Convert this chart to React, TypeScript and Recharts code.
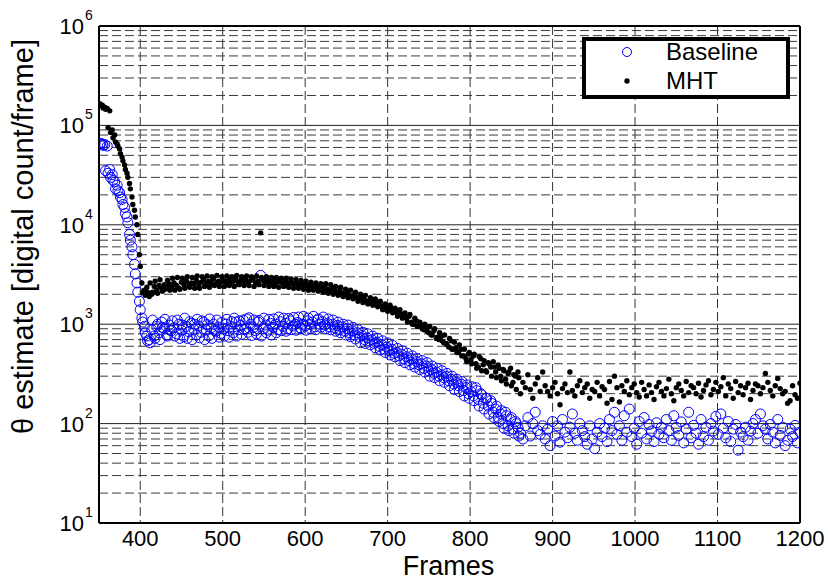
// @ts-nocheck
import React from 'react';
import {
  ScatterChart,
  Scatter,
  XAxis,
  YAxis,
  CartesianGrid,
  ReferenceLine,
  Legend,
} from 'recharts';

const FONT = '"Liberation Sans", Arial, Helvetica, sans-serif';

// frame numbers (one sample every 3 frames)
const frames = [
  351, 354, 357, 360, 363, 366, 369, 372, 375, 378,
  381, 384, 387, 390, 393, 396, 399, 402, 405, 408,
  411, 414, 417, 420, 423, 426, 429, 432, 435, 438,
  441, 444, 447, 450, 453, 456, 459, 462, 465, 468,
  471, 474, 477, 480, 483, 486, 489, 492, 495, 498,
  501, 504, 507, 510, 513, 516, 519, 522, 525, 528,
  531, 534, 537, 540, 543, 546, 549, 552, 555, 558,
  561, 564, 567, 570, 573, 576, 579, 582, 585, 588,
  591, 594, 597, 600, 603, 606, 609, 612, 615, 618,
  621, 624, 627, 630, 633, 636, 639, 642, 645, 648,
  651, 654, 657, 660, 663, 666, 669, 672, 675, 678,
  681, 684, 687, 690, 693, 696, 699, 702, 705, 708,
  711, 714, 717, 720, 723, 726, 729, 732, 735, 738,
  741, 744, 747, 750, 753, 756, 759, 762, 765, 768,
  771, 774, 777, 780, 783, 786, 789, 792, 795, 798,
  801, 804, 807, 810, 813, 816, 819, 822, 825, 828,
  831, 834, 837, 840, 843, 846, 849, 852, 855, 858,
  861, 864, 867, 870, 873, 876, 879, 882, 885, 888,
  891, 894, 897, 900, 903, 906, 909, 912, 915, 918,
  921, 924, 927, 930, 933, 936, 939, 942, 945, 948,
  951, 954, 957, 960, 963, 966, 969, 972, 975, 978,
  981, 984, 987, 990, 993, 996, 999, 1002, 1005, 1008,
  1011, 1014, 1017, 1020, 1023, 1026, 1029, 1032, 1035, 1038,
  1041, 1044, 1047, 1050, 1053, 1056, 1059, 1062, 1065, 1068,
  1071, 1074, 1077, 1080, 1083, 1086, 1089, 1092, 1095, 1098,
  1101, 1104, 1107, 1110, 1113, 1116, 1119, 1122, 1125, 1128,
  1131, 1134, 1137, 1140, 1143, 1146, 1149, 1152, 1155, 1158,
  1161, 1164, 1167, 1170, 1173, 1176, 1179, 1182, 1185, 1188,
  1191, 1194, 1197, 1200,
];

const baselineValues = [
  65000, 65000, 64000, 62000, 36000, 32000, 27000, 25000, 21000, 18000,
  15000, 12000, 8000, 6000, 4000, 2600, 1700, 1150, 950, 760,
  700, 880, 760, 950, 820, 1050, 900, 780, 980, 860,
  920, 800, 1000, 870, 750, 950, 840, 1020, 890, 780,
  960, 830, 1050, 880, 760, 920, 1000, 850, 940, 810,
  900, 1000, 860, 950, 820, 1050, 880, 970, 1100, 900,
  830, 1000, 920, 860, 1050, 3100, 900, 980, 870, 1020,
  930, 1000, 880, 1060, 950, 1020, 900, 1080, 960, 1000,
  1040, 920, 1000, 960, 1080, 990, 1050, 940, 1100, 1000,
  1060, 980, 1020, 940, 1000, 920, 970, 880, 940, 850,
  900, 820, 860, 780, 820, 740, 770, 700, 730, 680,
  700, 640, 660, 600, 620, 560, 590, 540, 560, 510,
  520, 480, 500, 450, 470, 430, 450, 400, 420, 390,
  400, 360, 380, 340, 350, 320, 330, 300, 310, 290,
  300, 270, 280, 250, 260, 240, 250, 215, 230, 200,
  210, 190, 230, 175, 200, 160, 180, 150, 170, 130,
  140, 115, 125, 100, 130, 95, 110, 88, 105, 92,
  80, 70, 95, 115, 75, 100, 130, 85, 78, 95,
  70, 88, 60, 105, 75, 95, 65, 110, 82, 72,
  92, 125, 80, 68, 100, 85, 74, 62, 95, 70,
  56, 82, 100, 74, 90, 66, 110, 85, 130, 78,
  95, 68, 120, 82, 140, 74, 90, 62, 105, 80,
  115, 70, 98, 84, 66, 102, 78, 92, 72, 110,
  85, 68, 120, 92, 76, 104, 64, 88, 130, 72,
  96, 80, 62, 110, 74, 92, 68, 100, 84, 118,
  78, 125, 90, 72, 105, 66, 88, 98, 54, 82,
  74, 92, 68, 84, 100, 110, 80, 125, 95, 88,
  70, 98, 82, 64, 110, 76, 92, 60, 68, 88,
  74, 96, 64, 82,
];

const mhtValues = [
  165000, 160000, 152000, 148000, 140000, 90000, 80000, 65000, 58000, 48000,
  40000, 33000, 26000, 19000, 14000, 10000, 5000, 2600, 2200, 2350,
  1900, 2000, 2400, 2200, 2450, 2300, 2500, 2350, 2550, 2400,
  2600, 2450, 2300, 2650, 2500, 2700, 2450, 2600, 2550, 2750,
  2500, 2650, 2800, 2550, 2700, 2600, 2850, 2550, 2700, 2650,
  2750, 2600, 2800, 2650, 2700, 2850, 2600, 2750, 2700, 2800,
  2650, 2750, 2850, 2600, 2700, 8300, 2750, 2650, 2800, 2600,
  2700, 2550, 2750, 2650, 2600, 2700, 2500, 2650, 2550, 2600,
  2500, 2600, 2450, 2550, 2400, 2500, 2350, 2450, 2300, 2400,
  2300, 2350, 2250, 2200, 2300, 2150, 2100, 2200, 2050, 2000,
  2050, 1950, 1900, 2000, 1850, 1800, 1850, 1750, 1700, 1650,
  1700, 1600, 1650, 1550, 1500, 1550, 1450, 1400, 1450, 1350,
  1300, 1350, 1250, 1200, 1150, 1200, 1050, 1000, 1080, 950,
  980, 880, 920, 820, 780, 860, 720, 700, 760, 650,
  640, 590, 680, 560, 580, 520, 560, 480, 450, 500,
  440, 480, 400, 370, 450, 390, 340, 410, 370, 420,
  330, 390, 300, 350, 280, 320, 360, 260, 300, 330,
  200, 260, 230, 310, 220, 180, 250, 290, 210, 330,
  240, 210, 190, 230, 260, 200, 155, 225, 250, 205,
  330, 215, 190, 240, 270, 205, 230, 250, 180, 220,
  210, 260, 190, 235, 220, 160, 265, 175, 300, 230,
  165, 240, 210, 270, 195, 230, 250, 205, 185, 260,
  220, 190, 245, 205, 175, 235, 260, 210, 190, 225,
  280, 200, 170, 230, 250, 215, 190, 265, 205, 240,
  230, 200, 255, 185, 215, 245, 270, 195, 220, 260,
  210, 235, 290, 190, 250, 225, 180, 265, 205, 240,
  195, 230, 255, 175, 215, 250, 240, 200, 230, 320,
  260, 215, 190, 240, 285, 225, 200, 210, 160, 170,
  240, 195, 180, 255,
];

// in-between frames where the two estimates form dense bands
const framesDense = [
  352, 355, 358, 361, 364, 367, 370, 373, 376, 379,
  382, 385, 388, 391, 394, 397, 400, 403, 406, 409,
  412, 415, 418, 421, 424, 427, 430, 433, 436, 439,
  442, 445, 448, 451, 454, 457, 460, 463, 466, 469,
  472, 475, 478, 481, 484, 487, 490, 493, 496, 499,
  502, 505, 508, 511, 514, 517, 520, 523, 526, 529,
  532, 535, 538, 541, 544, 547, 550, 553, 556, 559,
  562, 565, 568, 571, 574, 577, 580, 583, 586, 589,
  592, 595, 598, 601, 604, 607, 610, 613, 616, 619,
  622, 625, 628, 631, 634, 637, 640, 643, 646, 649,
  652, 655, 658, 661, 664, 667, 670, 673, 676, 679,
  682, 685, 688, 691, 694, 697, 700, 703, 706, 709,
  712, 715, 718, 721, 724, 727, 730, 733, 736, 739,
  742, 745, 748, 751, 754, 757, 760, 763, 766, 769,
  772, 775, 778, 781, 784, 787, 790, 793, 796, 799,
  802, 805, 808, 811, 814, 817, 820, 823, 826, 829,
  832, 835, 838, 841, 844, 847, 850, 853, 856, 859,
];

const baselineDense = [
  66000, 63000, 35000, 33000, 30000, 28000, 23000, 22000, 19000, 16000,
  13000, 10500, 7000, 5000, 3200, 2100, 1400, 1050, 820, 680,
  650, 1100, 720, 1000, 700, 930, 1120, 760, 870, 1080,
  760, 1100, 720, 980, 1150, 720, 1060, 700, 1000, 1120,
  730, 1080, 700, 990, 1130, 720, 860, 1100, 740, 1040,
  760, 1120, 740, 1060, 1150, 760, 1080, 790, 880, 1130,
  1160, 770, 1100, 800, 1090, 760, 1150, 820, 1120, 780,
  1130, 820, 1180, 860, 1150, 850, 1140, 880, 1170, 870,
  1180, 900, 1200, 870, 1150, 900, 1200, 880, 1130, 930,
  1180, 900, 1130, 880, 1100, 850, 1050, 820, 1000, 780,
  980, 750, 930, 710, 880, 650, 830, 640, 800, 620,
  760, 580, 720, 550, 680, 520, 650, 490, 610, 470,
  570, 430, 540, 410, 510, 390, 480, 370, 450, 350,
  430, 330, 410, 300, 380, 290, 360, 270, 340, 260,
  320, 240, 300, 220, 280, 210, 265, 190, 245, 180,
  235, 170, 215, 150, 195, 140, 180, 125, 160, 115,
  150, 105, 135, 90, 120, 85, 115, 80, 100, 75,
];

const mhtDense = [
  158000, 150000, 145000, 95000, 85000, 75000, 68000, 62000, 52000, 44000,
  36000, 30000, 23000, 16000, 12000, 8000, 3800, 2100, 1950, 2100,
  2600, 2100, 2700, 2050, 2800, 2150, 2250, 2750, 2200, 2900,
  2200, 2950, 2250, 2900, 2300, 3000, 2350, 2950, 2300, 3050,
  2300, 3000, 2400, 3050, 2350, 3000, 2450, 3100, 2400, 3000,
  2400, 3050, 2450, 3000, 2400, 3100, 2500, 3000, 2450, 3050,
  2450, 3000, 2400, 3050, 2500, 2950, 2450, 3000, 2400, 2950,
  2400, 2950, 2350, 2900, 2400, 2900, 2350, 2850, 2300, 2800,
  2300, 2750, 2250, 2700, 2200, 2650, 2200, 2600, 2150, 2550,
  2100, 2550, 2050, 2500, 2000, 2400, 1950, 2350, 1900, 2250,
  1850, 2200, 1800, 2100, 1700, 2000, 1650, 1950, 1600, 1850,
  1550, 1800, 1500, 1700, 1400, 1600, 1350, 1550, 1300, 1450,
  1200, 1400, 1150, 1300, 1050, 1250, 1000, 1150, 950, 1050,
  900, 1000, 850, 950, 780, 900, 740, 820, 680, 780,
  620, 720, 560, 660, 520, 620, 480, 560, 420, 520,
  400, 500, 360, 470, 340, 430, 330, 400, 300, 370,
  290, 360, 270, 340, 250, 330, 240, 310, 220, 290,
];

const xTicks = [400, 500, 600, 700, 800, 900, 1000, 1100, 1200];
const yTicks = [10, 100, 1000, 10000, 100000, 1000000];
const yMajorGrid = [100, 1000, 10000, 100000];
const yMinorGrid = [
  20, 30, 40, 50, 60, 70, 80, 90,
  200, 300, 400, 500, 600, 700, 800, 900,
  2000, 3000, 4000, 5000, 6000, 7000, 8000, 9000,
  20000, 30000, 40000, 50000, 60000, 70000, 80000, 90000,
  200000, 300000, 400000, 500000, 600000, 700000, 800000, 900000,
];

const baselineData = [
  ...frames.map((f, i) => ({ frame: f, value: baselineValues[i] })),
  ...framesDense.map((f, i) => ({ frame: f, value: baselineDense[i] })),
];
const mhtData = [
  ...frames.map((f, i) => ({ frame: f, value: mhtValues[i] })),
  ...framesDense.map((f, i) => ({ frame: f, value: mhtDense[i] })),
];

const BaselineMarker = (props) => (
  <circle cx={props.cx} cy={props.cy} r={5} fill="none" stroke="#0000ff" strokeWidth={1} />
);

const MhtMarker = (props) => <circle cx={props.cx} cy={props.cy} r={2.7} fill="#000" />;

function LogTick({ x, y, payload }) {
  const exp = Math.round(Math.log10(payload.value));
  return (
    <g fontFamily={FONT} fill="#000">
      <text x={x - 15} y={y + 8} textAnchor="end" fontSize={22}>
        10
      </text>
      <text x={x - 14} y={y - 6} fontSize={14}>
        {exp}
      </text>
    </g>
  );
}

function FrameTick({ x, y, payload }) {
  return (
    <text x={x} y={y + 23} textAnchor="middle" fontSize={22} fontFamily={FONT} fill="#000">
      {payload.value}
    </text>
  );
}

function LegendBox() {
  return (
    <svg width={208} height={62} style={{ display: 'block' }}>
      <rect x={2} y={2} width={204} height={58} fill="#fff" stroke="#000" strokeWidth={4} />
      <circle cx={45} cy={15} r={4.5} fill="none" stroke="#0000ff" />
      <text x={84} y={23} fontSize={24} fontFamily={FONT}>
        Baseline
      </text>
      <circle cx={45} cy={44} r={2.7} fill="#000" />
      <text x={84} y={52} fontSize={24} fontFamily={FONT}>
        MHT
      </text>
    </svg>
  );
}

export default function App() {
  return (
    <div style={{ position: 'absolute', left: 0, top: 0, width: 828, height: 580, background: '#fff' }}>
      <ScatterChart width={828} height={580} margin={{ top: 26, right: 28, bottom: 0, left: 0 }}>
        <CartesianGrid vertical horizontal={false} stroke="#333" strokeDasharray="9 4" />
        {yMinorGrid.map((v) => (
          <ReferenceLine key={`minor-${v}`} y={v} stroke="#3a3a3a" strokeDasharray="9 4" />
        ))}
        {yMajorGrid.map((v) => (
          <ReferenceLine key={`major-${v}`} y={v} stroke="#222" />
        ))}
        <ReferenceLine y={1000000} stroke="#000" strokeWidth={2} />
        <ReferenceLine x={1200} stroke="#000" strokeWidth={2} />
        <XAxis
          type="number"
          dataKey="frame"
          domain={[350, 1200]}
          ticks={xTicks}
          allowDataOverflow
          height={57}
          tickSize={0}
          tickMargin={0}
          tickLine={false}
          axisLine={{ stroke: '#000', strokeWidth: 2 }}
          tick={<FrameTick />}
          label={{
            content: ({ viewBox }) => (
              <text
                x={viewBox.x + viewBox.width / 2 - 1}
                y={viewBox.y + 52}
                textAnchor="middle"
                fontSize={27}
                fontFamily={FONT}
                fill="#000"
              >
                Frames
              </text>
            ),
          }}
        />
        <YAxis
          type="number"
          dataKey="value"
          scale="log"
          domain={[10, 1000000]}
          ticks={yTicks}
          allowDataOverflow
          width={99}
          tickSize={0}
          tickMargin={0}
          tickLine={false}
          axisLine={{ stroke: '#000', strokeWidth: 2 }}
          tick={<LogTick />}
          label={{
            content: ({ viewBox }) => {
              const cx = 33;
              const cy = viewBox.y + viewBox.height / 2 - 38;
              return (
                <text
                  x={cx}
                  y={cy}
                  transform={`rotate(-90 ${cx} ${cy})`}
                  textAnchor="middle"
                  fontSize={29}
                  fontFamily={FONT}
                  fill="#000"
                >
                  θ estimate [digital count/frame]
                </text>
              );
            },
          }}
        />
        <Legend
          layout="horizontal"
          align="center"
          verticalAlign="middle"
          content={<LegendBox />}
          wrapperStyle={{ left: 582, top: 37, width: 208, height: 62, lineHeight: 0 }}
        />
        <Scatter
          name="Baseline"
          data={baselineData}
          dataKey="value"
          shape={<BaselineMarker />}
          isAnimationActive={false}
        />
        <Scatter name="MHT" data={mhtData} dataKey="value" shape={<MhtMarker />} isAnimationActive={false} />
      </ScatterChart>
    </div>
  );
}
